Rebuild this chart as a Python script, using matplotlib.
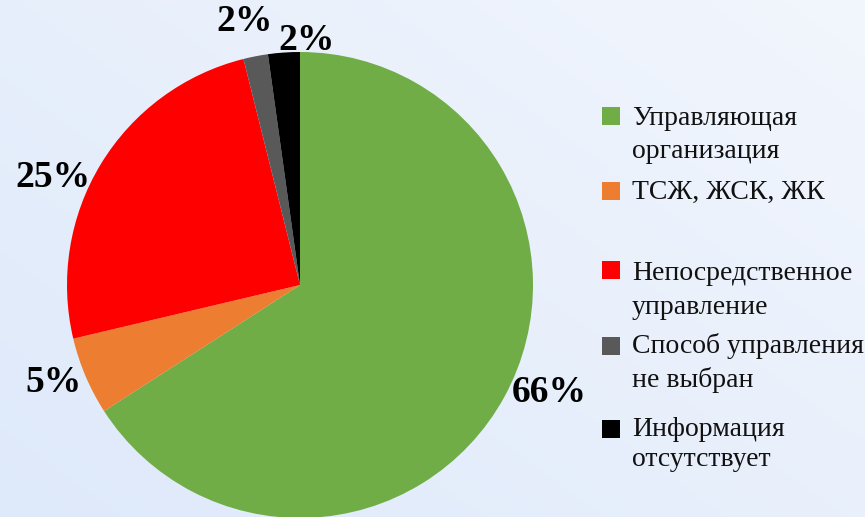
import matplotlib
matplotlib.use("Agg")
import matplotlib.pyplot as plt
import numpy as np
from matplotlib.patches import Rectangle

categories = ["Управляющая\nорганизация", "ТСЖ, ЖСК, ЖК", "Непосредственное\nуправление",
              "Способ управления\nне выбран", "Информация\nотсутствует"]
values = [65.9, 5.4, 24.8, 1.7, 2.2]
pct_labels = ["66%", "5%", "25%", "2%", "2%"]
colors = ["#70AD47", "#ED7D31", "#FF0000", "#595959", "#000000"]

plt.rcParams['font.family'] = ['Liberation Serif', 'DejaVu Serif']

W, H = 865, 517
fig = plt.figure(figsize=(W / 100, H / 100), dpi=100)

# background gradient
bg = fig.add_axes([0, 0, 1, 1], zorder=-10)
yy, xx = np.mgrid[0:1:200j, 0:1:300j]
t = np.clip(0.55 * xx + 0.45 * (1 - yy), 0, 1)
c0 = np.array([222, 233, 250]) / 255
c1 = np.array([242, 246, 253]) / 255
img = c0[None, None, :] * (1 - t[..., None]) + c1[None, None, :] * t[..., None]
bg.imshow(img, aspect='auto', extent=[0, 1, 0, 1], origin='upper')
bg.axis('off')

# pie
cx, cy, r = 300, 285, 233
ax = fig.add_axes([(cx - r) / W, (H - cy - r) / H, 2 * r / W, 2 * r / H])
wedges, texts = ax.pie(values, colors=colors, startangle=90, counterclock=False,
                       radius=1, labels=pct_labels, labeldistance=1.16,
                       textprops=dict(fontsize=27, fontweight='bold', color='black'),
                       wedgeprops=dict(linewidth=0))
ax.set_xlim(-1, 1)
ax.set_ylim(-1, 1)
ax.set_aspect('auto')
ax.axis('off')
for w in wedges:
    w.set_clip_on(False)
for tx in texts:
    tx.set_clip_on(False)
    tx.set_ha('center')
    tx.set_va('center')
# fine-tune label positions
texts[0].set_position((1.07, -0.46))
texts[1].set_position((-1.06, -0.42))
texts[2].set_position((-1.06, 0.46))
texts[3].set_position((-0.24, 1.13))
texts[4].set_position((0.03, 1.05))

# legend
square_tops = [107, 182, 261, 337, 420]
baselines = [[125, 158], [199], [280, 314], [353, 387], [436, 466]]
for lab, col, sq, bls in zip(categories, colors, square_tops, baselines):
    fig.patches.append(Rectangle((602 / W, (H - sq - 18) / H), 18 / W, 18 / H,
                                 transform=fig.transFigure, facecolor=col, edgecolor='none'))
    for line, b in zip(lab.split("\n"), bls):
        fig.text(632 / W, (H - b) / H, line, fontsize=20, va='baseline', ha='left',
                 color='#111111')

fig.savefig("out.png", dpi=100)
